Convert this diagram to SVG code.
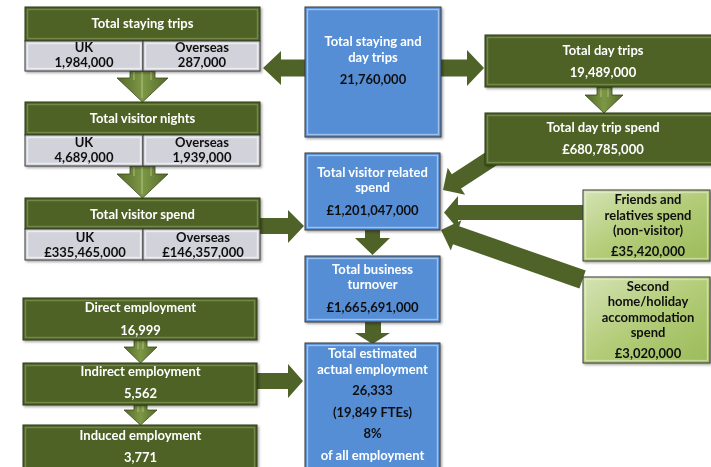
<svg xmlns="http://www.w3.org/2000/svg" width="711" height="467" viewBox="0 0 711 467">
  <defs>
    <filter id="shadow" x="-10%" y="-10%" width="120%" height="130%">
      <feDropShadow dx="1.5" dy="1.5" stdDeviation="1" flood-color="#000" flood-opacity="0.35"/>
    </filter>
    <linearGradient id="lightGreen" x1="0" y1="0" x2="1" y2="1">
      <stop offset="0" stop-color="#d5e3b5"/>
      <stop offset="0.5" stop-color="#b3cc78"/>
      <stop offset="1" stop-color="#9bbb59"/>
    </linearGradient>
    <linearGradient id="downArrow" x1="0" y1="0" x2="1" y2="0">
      <stop offset="0" stop-color="#55692a"/>
      <stop offset="0.5" stop-color="#7d9845"/>
      <stop offset="1" stop-color="#55692a"/>
    </linearGradient>
    <polygon id="bigArrow" points="0,0 16,-16 16,-8.5 160,-8.5 160,8.5 16,8.5 16,-16"/>
  </defs>
  <style>
    .dk { fill: #4f6228; stroke: #2e3a16; stroke-width: 1; }
    .dkb { fill: none; stroke: #90a860; stroke-opacity: 0.55; stroke-width: 1.4; }
    .gr { fill: #d2d2da; stroke: #3a3a3a; stroke-width: 1; }
    .grb { fill: none; stroke: #ffffff; stroke-opacity: 0.6; stroke-width: 1.4; }
    .bl { fill: #558ed5; stroke: #3a3a3a; stroke-width: 1; }
    .blb { fill: none; stroke: #b9d1f0; stroke-opacity: 0.75; stroke-width: 1.4; }
    .lg { fill: url(#lightGreen); stroke: #3a3a3a; stroke-width: 1; }
    .lgb { fill: none; stroke: #eef5dc; stroke-opacity: 0.5; stroke-width: 1.4; }
    .arr { fill: #4f6228; }
    .darr { fill: url(#downArrow); stroke: #3b4a1c; stroke-width: 0.8; }
    .hl { stroke: #c4d6a0; stroke-opacity: 0.7; stroke-width: 1; }
    text { font-family: "Lato", "Liberation Sans", sans-serif; font-weight: bold; font-size: 13px; text-anchor: middle; }
    .w { fill: #ffffff; }
    .k { fill: #111111; }
  </style>

  <!-- connectors -->
  <g id="connectors">
    <!-- to staying trips / day trips -->
    <polygon class="arr" points="306,59.5 281,59.5 281,51 263,68 281,85 281,76.5 306,76.5"/>
    <polygon class="arr" points="440,59.5 467,59.5 467,50 484,68 467,86 467,76.5 440,76.5"/>
    <!-- visitor spend and employment into blue column -->
    <polygon class="arr" points="259,218 288,218 288,210 304,226 288,243 288,234 259,234"/>
    <polygon class="arr" points="256,373 288,373 288,364 303,381 288,398 288,389 256,389"/>
    <!-- blue column downward -->
    <polygon class="arr" points="365,229 380,229 380,238 390,238 372.5,255 355,238 365,238"/>
    <polygon class="arr" points="365,321 381,321 381,333 390,333 372.5,344 355,333 365,333"/>
    <!-- inputs into visitor related spend -->
    <polygon class="arr" transform="translate(443,190) rotate(-33)" points="0,0 16,-16 16,-8.5 70,-8.5 70,8.5 16,8.5 16,16"/>
    <polygon class="arr" transform="translate(444,212.5)" points="0,0 14,-16.5 14,-7.5 145,-7.5 145,7.5 14,7.5 14,16.5"/>
    <polygon class="arr" transform="translate(441,230) rotate(19.3)" points="0,0 16,-16 16,-9.5 150,-9.5 150,9.5 16,9.5 16,16"/>

    <!-- bevelled down arrows, left column -->
    <polygon class="darr" points="130,71 155,71 155,78 168,78 142.5,102 117,78 130,78"/>
    <line class="hl" x1="134" y1="72" x2="134" y2="80"/>
    <line class="hl" x1="142" y1="72" x2="142" y2="98"/>
    <line class="hl" x1="151" y1="72" x2="151" y2="80"/>
    <polygon class="darr" points="130,166 155,166 155,174 168,174 142.5,198 117,174 130,174"/>
    <line class="hl" x1="134" y1="167" x2="134" y2="176"/>
    <line class="hl" x1="142" y1="167" x2="142" y2="194"/>
    <line class="hl" x1="151" y1="167" x2="151" y2="176"/>
    <!-- day trips -->
    <polygon class="darr" points="597,87 612,87 612,95 623,95 604,113 585,95 597,95"/>
    <line class="hl" x1="601" y1="88" x2="601" y2="97"/>
    <line class="hl" x1="608" y1="88" x2="608" y2="97"/>
    <!-- employment -->
    <polygon class="darr" points="134,340 147,340 147,347 157,347 140.5,363 124,347 134,347"/>
    <line class="hl" x1="138" y1="341" x2="138" y2="349"/>
    <line class="hl" x1="143" y1="341" x2="143" y2="349"/>
    <polygon class="darr" points="134,405 147,405 147,410 157,410 140.5,425 124,410 134,410"/>
    <line class="hl" x1="138" y1="406" x2="138" y2="412"/>
    <line class="hl" x1="143" y1="406" x2="143" y2="412"/>
  </g>

  <!-- Total staying trips -->
  <g id="staying-trips" filter="url(#shadow)">
    <rect class="dk" x="25" y="7" width="235" height="34"/>
    <rect class="dkb" x="27.5" y="9.5" width="230" height="29"/>
    <rect class="gr" x="25" y="41" width="118" height="30"/>
    <rect class="grb" x="27.5" y="43.5" width="113" height="25"/>
    <rect class="gr" x="143" y="41" width="117" height="30"/>
    <rect class="grb" x="145.5" y="43.5" width="112" height="25"/>
    <text class="w" x="142.5" y="28">Total staying trips</text>
    <text class="k" x="84" y="52">UK</text>
    <text class="k" x="84" y="67">1,984,000</text>
    <text class="k" x="202" y="52">Overseas</text>
    <text class="k" x="202" y="67">287,000</text>
  </g>

  <!-- Total visitor nights -->
  <g id="visitor-nights" filter="url(#shadow)">
    <rect class="dk" x="25" y="102" width="235" height="33"/>
    <rect class="dkb" x="27.5" y="104.5" width="230" height="28"/>
    <rect class="gr" x="25" y="135" width="118" height="31"/>
    <rect class="grb" x="27.5" y="137.5" width="113" height="26"/>
    <rect class="gr" x="143" y="135" width="117" height="31"/>
    <rect class="grb" x="145.5" y="137.5" width="112" height="26"/>
    <text class="w" x="142.5" y="123">Total visitor nights</text>
    <text class="k" x="84" y="147">UK</text>
    <text class="k" x="84" y="162">4,689,000</text>
    <text class="k" x="202" y="147">Overseas</text>
    <text class="k" x="202" y="162">1,939,000</text>
  </g>

  <!-- Total visitor spend -->
  <g id="visitor-spend" filter="url(#shadow)">
    <rect class="dk" x="25" y="198" width="235" height="31"/>
    <rect class="dkb" x="27.5" y="200.5" width="230" height="26"/>
    <rect class="gr" x="25" y="229" width="118" height="31"/>
    <rect class="grb" x="27.5" y="231.5" width="113" height="26"/>
    <rect class="gr" x="143" y="229" width="117" height="31"/>
    <rect class="grb" x="145.5" y="231.5" width="112" height="26"/>
    <text class="w" x="142.5" y="219">Total visitor spend</text>
    <text class="k" x="85" y="242">UK</text>
    <text class="k" x="85" y="257">£335,465,000</text>
    <text class="k" x="203" y="242">Overseas</text>
    <text class="k" x="203" y="257">£146,357,000</text>
  </g>

  <!-- Employment chain -->
  <g id="direct-employment" filter="url(#shadow)">
    <rect class="dk" x="23" y="298" width="234" height="42"/>
    <rect class="dkb" x="25.5" y="300.5" width="229" height="37"/>
    <text class="w" x="140.5" y="312">Direct employment</text>
    <text class="w" x="140.5" y="335">16,999</text>
  </g>
  <g id="indirect-employment" filter="url(#shadow)">
    <rect class="dk" x="23" y="363" width="234" height="42"/>
    <rect class="dkb" x="25.5" y="365.5" width="229" height="37"/>
    <text class="w" x="140.5" y="376">Indirect employment</text>
    <text class="w" x="140.5" y="398">5,562</text>
  </g>
  <g id="induced-employment" filter="url(#shadow)">
    <rect class="dk" x="23" y="425" width="234" height="60"/>
    <rect class="dkb" x="25.5" y="427.5" width="229" height="55"/>
    <text class="w" x="140.5" y="440">Induced employment</text>
    <text class="w" x="140.5" y="462">3,771</text>
  </g>

  <!-- Blue central column -->
  <g id="staying-and-day-trips" filter="url(#shadow)">
    <rect class="bl" x="305" y="7" width="136" height="130"/>
    <rect class="blb" x="307.5" y="9.5" width="131" height="125"/>
    <text class="w" x="373" y="46">Total staying and</text>
    <text class="w" x="373" y="62">day trips</text>
    <text class="k" x="373" y="84">21,760,000</text>
  </g>
  <g id="visitor-related-spend" filter="url(#shadow)">
    <rect class="bl" x="305" y="153" width="135" height="77"/>
    <rect class="blb" x="307.5" y="155.5" width="130" height="72"/>
    <text class="w" x="372.5" y="177">Total visitor related</text>
    <text class="w" x="372.5" y="192">spend</text>
    <text class="k" x="372.5" y="215">£1,201,047,000</text>
  </g>
  <g id="business-turnover" filter="url(#shadow)">
    <rect class="bl" x="305" y="256" width="135" height="66"/>
    <rect class="blb" x="307.5" y="258.5" width="130" height="61"/>
    <text class="w" x="372.5" y="274">Total business</text>
    <text class="w" x="372.5" y="289">turnover</text>
    <text class="k" x="372.5" y="312">£1,665,691,000</text>
  </g>
  <g id="estimated-employment" filter="url(#shadow)">
    <rect class="bl" x="305" y="343" width="135" height="140"/>
    <rect class="blb" x="307.5" y="345.5" width="130" height="135"/>
    <text class="w" x="372.5" y="358">Total estimated</text>
    <text class="w" x="372.5" y="374">actual employment</text>
    <text class="k" x="372.5" y="395">26,333</text>
    <text class="k" x="372.5" y="417">(19,849 FTEs)</text>
    <text class="k" x="372.5" y="438">8%</text>
    <text class="w" x="372.5" y="460">of all employment</text>
  </g>

  <!-- Day trips -->
  <g id="day-trips" filter="url(#shadow)">
    <rect class="dk" x="485" y="35" width="240" height="52"/>
    <rect class="dkb" x="487.5" y="37.5" width="235" height="47"/>
    <text class="w" x="603" y="55">Total day trips</text>
    <text class="w" x="603" y="77">19,489,000</text>
  </g>
  <g id="day-trip-spend" filter="url(#shadow)">
    <rect class="dk" x="485" y="113" width="240" height="52"/>
    <rect class="dkb" x="487.5" y="115.5" width="235" height="47"/>
    <text class="w" x="603" y="132">Total day trip spend</text>
    <text class="w" x="603" y="154">£680,785,000</text>
  </g>

  <!-- Non-visitor inputs -->
  <g id="friends-relatives" filter="url(#shadow)">
    <rect class="lg" x="583" y="190" width="127" height="71"/>
    <rect class="lgb" x="585.5" y="192.5" width="122" height="66"/>
    <text class="k" x="648" y="204">Friends and</text>
    <text class="k" x="648" y="220">relatives spend</text>
    <text class="k" x="648" y="235">(non-visitor)</text>
    <text class="k" x="648" y="256">£35,420,000</text>
  </g>
  <g id="second-home" filter="url(#shadow)">
    <rect class="lg" x="583" y="277" width="127" height="86"/>
    <rect class="lgb" x="585.5" y="279.5" width="122" height="81"/>
    <text class="k" x="648" y="291">Second</text>
    <text class="k" x="648" y="306">home/holiday</text>
    <text class="k" x="648" y="322">accommodation</text>
    <text class="k" x="648" y="337">spend</text>
    <text class="k" x="648" y="358">£3,020,000</text>
  </g>
</svg>
